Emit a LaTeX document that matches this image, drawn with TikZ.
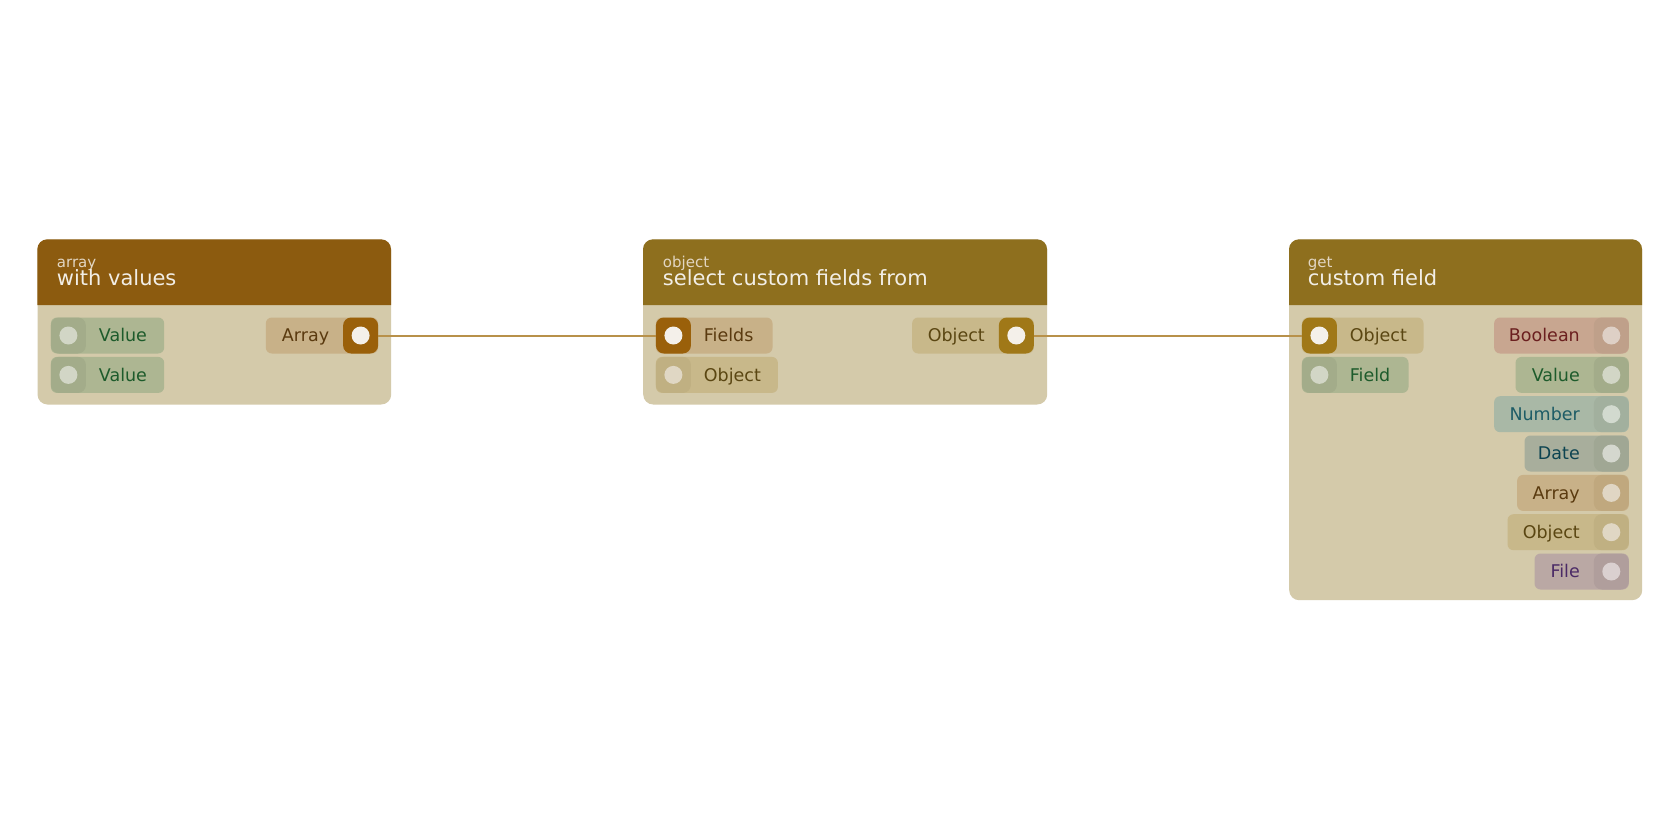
\documentclass[tikz,border=0pt]{standalone}
\usepackage{fontspec}
\setmainfont{DejaVu Sans}
\definecolor{hdrA}{HTML}{8C5B0F}
\definecolor{hdrB}{HTML}{8E6F1E}
\definecolor{bodyC}{HTML}{D4CAAA}
\definecolor{wireC}{HTML}{B8914A}
\definecolor{titleC}{HTML}{F2EEE6}
\definecolor{subC}{HTML}{E2D6C2}
\definecolor{brownSq}{HTML}{9A600A}
\definecolor{goldSq}{HTML}{A07818}
\definecolor{liveDot}{HTML}{F4F0EA}
% value
\definecolor{pillValue}{HTML}{ADB692}
\definecolor{sqValue}{HTML}{A3AC8A}
\definecolor{dotValue}{HTML}{D2D6C6}
\definecolor{txtValue}{HTML}{1D5B2B}
% array
\definecolor{pillArray}{HTML}{C8B188}
\definecolor{sqArray}{HTML}{C0A87E}
\definecolor{dotArray}{HTML}{E0D6C4}
\definecolor{txtArray}{HTML}{5A3A0F}
% object
\definecolor{pillObject}{HTML}{C8B88A}
\definecolor{sqObject}{HTML}{C0B082}
\definecolor{dotObject}{HTML}{E0D7C4}
\definecolor{txtObject}{HTML}{5A4612}
% boolean
\definecolor{pillBoolean}{HTML}{C8A690}
\definecolor{sqBoolean}{HTML}{BFA08A}
\definecolor{dotBoolean}{HTML}{DED0C6}
\definecolor{txtBoolean}{HTML}{6B1F1F}
% number
\definecolor{pillNumber}{HTML}{A9B8A6}
\definecolor{sqNumber}{HTML}{A2B09E}
\definecolor{dotNumber}{HTML}{D2DACF}
\definecolor{txtNumber}{HTML}{1D5C66}
% date
\definecolor{pillDate}{HTML}{A8AE9C}
\definecolor{sqDate}{HTML}{A0A794}
\definecolor{dotDate}{HTML}{D4D7CE}
\definecolor{txtDate}{HTML}{0D4451}
% file
\definecolor{pillFile}{HTML}{BAA8A4}
\definecolor{sqFile}{HTML}{B09E9C}
\definecolor{dotFile}{HTML}{DAD0D0}
\definecolor{txtFile}{HTML}{4B2A66}

\tikzset{
  bodybox/.style={fill=bodyC, rounded corners=10pt, inner sep=0pt, anchor=north west},
  pill/.style={rounded corners=6pt, minimum height=36pt, inner sep=0pt},
  psq/.style={rounded corners=8pt, minimum width=35pt, minimum height=36pt, inner sep=0pt},
  pdot/.style={circle, minimum size=18pt, inner sep=0pt},
  plabel/.style={inner sep=0pt, font=\fontsize{17.5}{20}\selectfont},
  ttl/.style={inner sep=0pt, anchor=base west, text=titleC, font=\fontsize{21}{24}\selectfont},
  subttl/.style={inner sep=0pt, anchor=base west, text=subC, font=\fontsize{15}{18}\selectfont},
  wire/.style={draw=wireC, line width=2pt},
}
% #1 name, #2 x left, #3 y top, #4 width, #5 type, #6 square colour, #7 dot colour, #8 text
\newcommand\portIn[8]{%
  \node[pill, fill=pill#5, minimum width=#4, anchor=north west] (#1) at (#2,#3) {};
  \node[psq, fill=#6, anchor=north west] (#1sq) at (#2,#3) {};
  \node[pdot, fill=#7] (#1dot) at (#1sq.center) {};
  \node[plabel, text=txt#5, anchor=base west] (#1txt) at ({#2+48},{#3+24.5}) {#8};
}
% #1 name, #2 x right, #3 y top, #4 width, #5 type, #6 square colour, #7 dot colour, #8 text
\newcommand\portOut[8]{%
  \node[pill, fill=pill#5, minimum width=#4, anchor=north east] (#1) at (#2,#3) {};
  \node[psq, fill=#6, anchor=north east] (#1sq) at (#2,#3) {};
  \node[pdot, fill=#7] (#1dot) at (#1sq.center) {};
  \node[plabel, text=txt#5, anchor=base east] (#1txt) at ({#2-49},{#3+24.5}) {#8};
}
\newcommand\hdrbar[4]{% x1 x2 ytop colour
  \fill[#4] (#1,305) [rounded corners=10pt] -- (#1,#3) -- (#2,#3) [sharp corners] -- (#2,305) -- cycle;
}

\begin{document}
\begin{tikzpicture}[x=1pt,y=-1pt]
\useasboundingbox[fill=white] (0,0) rectangle (1680,840);

% ---------- node 1 ----------
\node[bodybox, minimum width=353.7pt, minimum height=165pt] (n1) at (37.3,239.3) {};
\hdrbar{37.3}{391}{239.3}{hdrA}
\node[subttl] (n1sub) at (56.7,267.5) {array};
\node[ttl] (n1ttl) at (56.7,285) {with values};
\portIn{aVa}{50.7}{317.3}{113.3pt}{Value}{sqValue}{dotValue}{Value}
\portIn{aVb}{50.7}{356.7}{113.3pt}{Value}{sqValue}{dotValue}{Value}
\portOut{aOut}{378.3}{317.3}{112.3pt}{Array}{brownSq}{liveDot}{Array}

% ---------- node 2 ----------
\node[bodybox, minimum width=404pt, minimum height=165pt] (n2) at (643,239.3) {};
\hdrbar{643}{1047}{239.3}{hdrB}
\node[subttl] (n2sub) at (662.7,267.5) {object};
\node[ttl] (n2ttl) at (662.7,285) {select custom fields from};
\portIn{bFi}{655.7}{317.3}{116.6pt}{Array}{brownSq}{liveDot}{Fields}
\portIn{bOb}{655.7}{356.7}{122pt}{Object}{sqObject}{dotObject}{Object}
\portOut{bOut}{1034}{317.3}{121.7pt}{Object}{goldSq}{liveDot}{Object}

% ---------- node 3 ----------
\node[bodybox, minimum width=353pt, minimum height=360.7pt] (n3) at (1289,239.3) {};
\hdrbar{1289}{1642}{239.3}{hdrB}
\node[subttl] (n3sub) at (1307.7,267.5) {get};
\node[ttl] (n3ttl) at (1307.7,285) {custom field};
\portIn{cOb}{1301.7}{317.3}{121.6pt}{Object}{goldSq}{liveDot}{Object}
\portIn{cFi}{1301.7}{356.7}{106.6pt}{Value}{sqValue}{dotValue}{Field}
\portOut{cBo}{1629}{317.3}{134.7pt}{Boolean}{sqBoolean}{dotBoolean}{Boolean}
\portOut{cVa}{1629}{356.7}{113.3pt}{Value}{sqValue}{dotValue}{Value}
\portOut{cNu}{1629}{396}{134.7pt}{Number}{sqNumber}{dotNumber}{Number}
\portOut{cDa}{1629}{435.3}{104.3pt}{Date}{sqDate}{dotDate}{Date}
\portOut{cAr}{1629}{474.7}{111.7pt}{Array}{sqArray}{dotArray}{Array}
\portOut{cOj}{1629}{514}{121.3pt}{Object}{sqObject}{dotObject}{Object}
\portOut{cFl}{1629}{553.3}{94.3pt}{File}{sqFile}{dotFile}{File}

% ---------- connectors ----------
\draw[wire] (aOutsq.east) -- (bFisq.west);
\draw[wire] (bOutsq.east) -- (cObsq.west);
\end{tikzpicture}
\end{document}
